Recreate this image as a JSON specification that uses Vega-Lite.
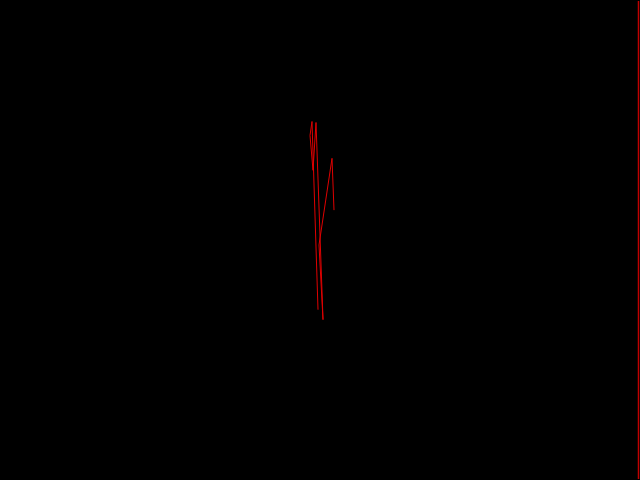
{
  "$schema": "https://vega.github.io/schema/vega-lite/v6.json",
  "width": 640,
  "height": 480,
  "autosize": {"type": "fit", "contains": "padding"},
  "padding": 0,
  "background": "black",
  "config": {"view": {"stroke": null}},
  "layer": [
    {
      "data": {"values": [
        {"i": 1, "x": 334, "y": 210},
        {"i": 2, "x": 332, "y": 158},
        {"i": 3, "x": 319, "y": 245},
        {"i": 4, "x": 323, "y": 320},
        {"i": 5, "x": 316, "y": 122},
        {"i": 6, "x": 313, "y": 170},
        {"i": 7, "x": 310, "y": 135},
        {"i": 8, "x": 312, "y": 121},
        {"i": 9, "x": 318, "y": 310}
      ]},
      "mark": {"type": "line", "color": "#e00000", "strokeWidth": 1},
      "encoding": {
        "x": {"field": "x", "type": "quantitative", "scale": {"domain": [0, 640], "nice": false, "zero": false}, "axis": null},
        "y": {"field": "y", "type": "quantitative", "scale": {"domain": [0, 480], "reverse": true, "nice": false, "zero": false}, "axis": null},
        "order": {"field": "i"}
      }
    },
    {
      "data": {"values": [{"x": 638.5}]},
      "mark": {"type": "rule", "color": "#c00000", "strokeWidth": 1.5},
      "encoding": {
        "x": {"field": "x", "type": "quantitative"}
      }
    }
  ]
}
